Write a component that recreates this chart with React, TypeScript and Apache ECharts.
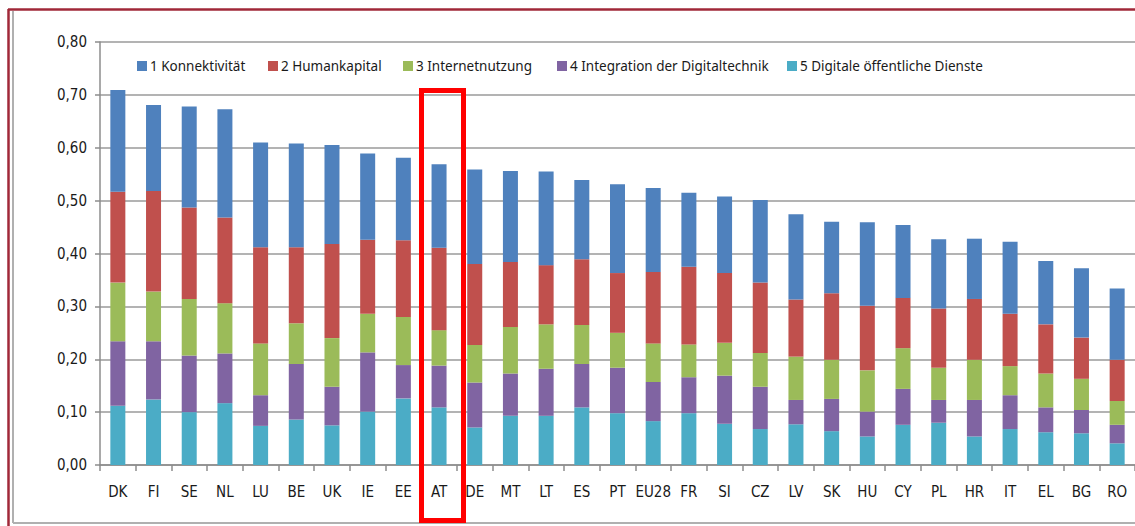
import React, { useEffect, useRef } from "react";
import * as echarts from "echarts";

const categories = ["DK","FI","SE","NL","LU","BE","UK","IE","EE","AT","DE","MT","LT","ES","PT","EU28","FR","SI","CZ","LV","SK","HU","CY","PL","HR","IT","EL","BG","RO"];

const seriesNames = ["1 Konnektivität","2 Humankapital","3 Internetnutzung","4 Integration der Digitaltechnik","5 Digitale öffentliche Dienste"];

const konnektivitaet = [0.192,0.163,0.191,0.205,0.198,0.196,0.187,0.163,0.156,0.158,0.179,0.172,0.177,0.150,0.168,0.159,0.140,0.145,0.156,0.161,0.135,0.158,0.138,0.131,0.114,0.136,0.120,0.131,0.135];
const humankapital = [0.172,0.190,0.173,0.162,0.182,0.144,0.178,0.140,0.145,0.156,0.153,0.123,0.112,0.124,0.113,0.135,0.147,0.132,0.133,0.108,0.126,0.122,0.095,0.112,0.115,0.099,0.093,0.078,0.078];
const internetnutzung = [0.111,0.094,0.107,0.095,0.098,0.077,0.092,0.073,0.091,0.067,0.071,0.088,0.084,0.074,0.066,0.073,0.062,0.062,0.064,0.082,0.074,0.078,0.077,0.061,0.076,0.055,0.064,0.059,0.045];
const integration = [0.122,0.110,0.107,0.094,0.058,0.105,0.073,0.112,0.063,0.079,0.085,0.080,0.089,0.082,0.086,0.074,0.068,0.091,0.080,0.046,0.061,0.047,0.068,0.043,0.069,0.064,0.047,0.044,0.035];
const oeffentlicheDienste = [0.112,0.124,0.100,0.117,0.074,0.086,0.075,0.101,0.126,0.109,0.071,0.093,0.093,0.109,0.098,0.083,0.098,0.078,0.068,0.077,0.064,0.054,0.076,0.080,0.054,0.068,0.062,0.060,0.041];

const colors = ["#4F81BD","#C0504D","#9BBB59","#8064A2","#4BACC6"];
const legendLefts = [137, 268, 403, 557, 787];

const FONT = "'DejaVu Sans Condensed', 'Noto Sans', sans-serif";
const LFONT = "'Noto Sans', sans-serif";

export default function App() {
  const ref = useRef<HTMLDivElement>(null);
  useEffect(() => {
    if (!ref.current) return;
    const chart = echarts.init(ref.current, undefined, { renderer: "svg" });
    const values = [konnektivitaet, humankapital, internetnutzung, integration, oeffentlicheDienste];
    // stacking order: bottom = 5, top = 1
    const order = [4, 3, 2, 1, 0];
    const series = order.map((i) => ({
      name: seriesNames[i],
      type: "bar",
      stack: "total",
      data: values[i],
      barWidth: 15,
      itemStyle: { color: colors[i] },
    }));
    const legends = seriesNames.map((n, i) => ({
      data: [n],
      left: legendLefts[i],
      top: 59,
      padding: 0,
      itemWidth: 10,
      itemHeight: 10,
      icon: "rect",
      selectedMode: false,
      textStyle: { fontSize: 13.5, color: "#1a1a1a", fontFamily: LFONT, padding: [0, 0, 0, -2] },
    }));
    chart.setOption({
      animation: false,
      color: colors,
      legend: legends,
      grid: { left: 100, top: 42, width: 1035, height: 423, containLabel: false },
      xAxis: {
        type: "category",
        data: categories,
        axisLine: { lineStyle: { color: "#8c8c8c", width: 1.5 } },
        axisTick: { show: true, length: 6, lineStyle: { color: "#8c8c8c", width: 1.5 } },
        axisLabel: { fontSize: 15, color: "#1a1a1a", fontFamily: FONT, margin: 19, interval: 0 },
      },
      yAxis: {
        type: "value",
        min: 0,
        max: 0.8,
        interval: 0.1,
        axisLine: { show: true, lineStyle: { color: "#8c8c8c", width: 1.5 } },
        axisTick: { show: true, length: 5, lineStyle: { color: "#8c8c8c", width: 1.5 } },
        splitLine: { lineStyle: { color: "#9a9a9a", width: 1.5 } },
        axisLabel: {
          fontSize: 15,
          color: "#1a1a1a",
          fontFamily: FONT,
          margin: 13,
          formatter: (v: number) => v.toFixed(2).replace(".", ","),
        },
      },
      graphic: [
        { type: "line", shape: { x1: 8, y1: 9.5, x2: 1135, y2: 9.5 }, style: { stroke: "#A02838", lineWidth: 2.5 } },
        { type: "line", shape: { x1: 8.5, y1: 9, x2: 8.5, y2: 526 }, style: { stroke: "#A02838", lineWidth: 2.5 } },
        { type: "line", shape: { x1: 13, y1: 11, x2: 13, y2: 523 }, style: { stroke: "#b0b0b0", lineWidth: 2 } },
        { type: "line", shape: { x1: 13, y1: 523, x2: 1135, y2: 523 }, style: { stroke: "#b0b0b0", lineWidth: 2 } },
        { type: "rect", shape: { x: 421.5, y: 90.5, width: 42, height: 430 }, style: { stroke: "#ff0000", lineWidth: 5, fill: "none" }, z: 100 },
      ],
      series,
    });
    return () => chart.dispose();
  }, []);
  return <div ref={ref} style={{ position: "fixed", left: 0, top: 0, width: 1135, height: 526, background: "#fff" }} />;
}
